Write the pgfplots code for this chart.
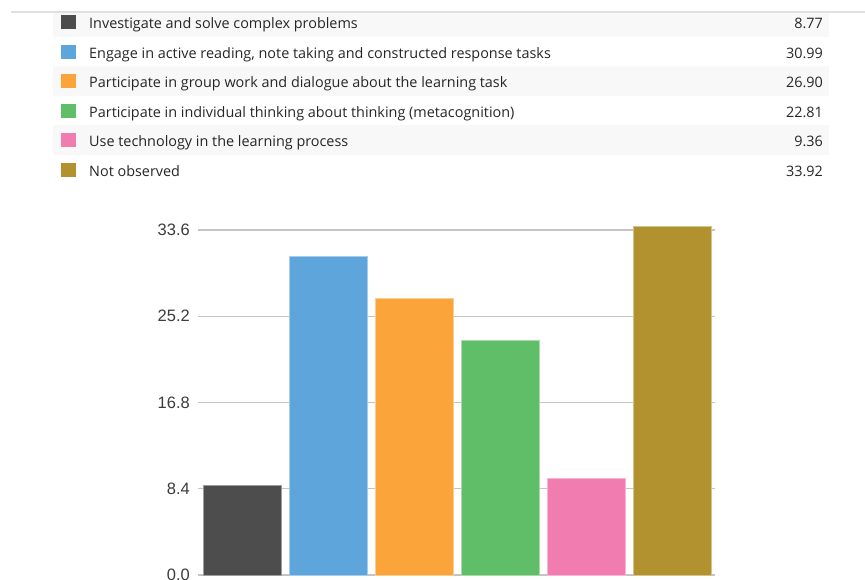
\documentclass[border=0pt]{standalone}
\usepackage{pgfplots}
\usepackage{pgfplotstable}
\pgfplotsset{compat=1.18}
\usepackage{fontspec}
\setmainfont{Open Sans}
\newfontfamily\tickfont{Liberation Sans}

\definecolor{c0}{HTML}{4D4D4D}
\definecolor{c1}{HTML}{5DA5DA}
\definecolor{c2}{HTML}{FAA43A}
\definecolor{c3}{HTML}{60BD68}
\definecolor{c4}{HTML}{F17CB0}
\definecolor{c5}{HTML}{B2912F}
\definecolor{stripe}{HTML}{F8F8F8}
\definecolor{txt}{HTML}{262626}
\definecolor{ticktxt}{HTML}{3C3C3C}
\definecolor{gridc}{HTML}{C4C4C4}

\pgfplotstableread[col sep=semicolon]{
idx;value;label
0;8.77;Investigate and solve complex problems
1;30.99;Engage in active reading, note taking and constructed response tasks
2;26.90;Participate in group work and dialogue about the learning task
3;22.81;Participate in individual thinking about thinking (metacognition)
4;9.36;Use technology in the learning process
5;33.92;Not observed
}\datatable

\begin{document}
\begin{tikzpicture}[x=1pt,y=1pt]
\path[use as bounding box] (0pt,0pt) rectangle (865pt,579pt);

% striped rows of the key table
\fill[stripe] (53,542) rectangle (829,566);
\fill[stripe] (53,483) rectangle (829,512.5);
\fill[stripe] (53,424) rectangle (829,453.5);
\draw[black!12, line width=1.2pt] (11,567) -- (865,567);

% key rows: swatch, label, value
\foreach \i in {0,...,5} {
  \pgfplotstablegetelem{\i}{label}\of\datatable
  \let\lab\pgfplotsretval
  \pgfplotstablegetelem{\i}{value}\of\datatable
  \let\val\pgfplotsretval
  \pgfmathsetmacro{\base}{550.5-29.6*\i}
  \fill[c\i] (61,\base-0.5) rectangle (76,\base+13.5);
  \node[anchor=base west, inner sep=0pt, text=txt, font=\fontsize{14.4}{17}\selectfont] at (89,\base) {\lab};
  \node[anchor=base east, inner sep=0pt, text=txt, font=\fontsize{14.4}{17}\selectfont] at (823,\base)
    {\pgfmathprintnumber[fixed, precision=2, zerofill, assume math mode=true]{\val}};
}

\begin{axis}[
  at={(198pt,4pt)}, anchor=south west,
  scale only axis, width=517pt, height=345pt,
  xmin=-0.512, xmax=5.5,
  ymin=0, ymax=33.6,
  ytick={0,8.4,16.8,25.2,33.6},
  xtick=\empty,
  axis line style={draw=none},
  major tick length=0pt,
  ymajorgrids,
  grid style={gridc, line width=1.3pt},
  yticklabel style={font=\tickfont\fontsize{16.5}{18}\selectfont, text=ticktxt,
    anchor=east, inner sep=0pt, xshift=-8pt,
    /pgf/number format/.cd, fixed, precision=1, zerofill, assume math mode=true},
  clip=false,
]
\pgfplotsinvokeforeach{0,...,5}{
  \addplot[ybar, bar width=78pt, bar shift=0pt, fill=c#1, draw=c#1!55!white, line width=0.8pt]
    table[x=idx, y=value, restrict x to domain=#1:#1] {\datatable};
}
\end{axis}
\end{tikzpicture}
\end{document}
